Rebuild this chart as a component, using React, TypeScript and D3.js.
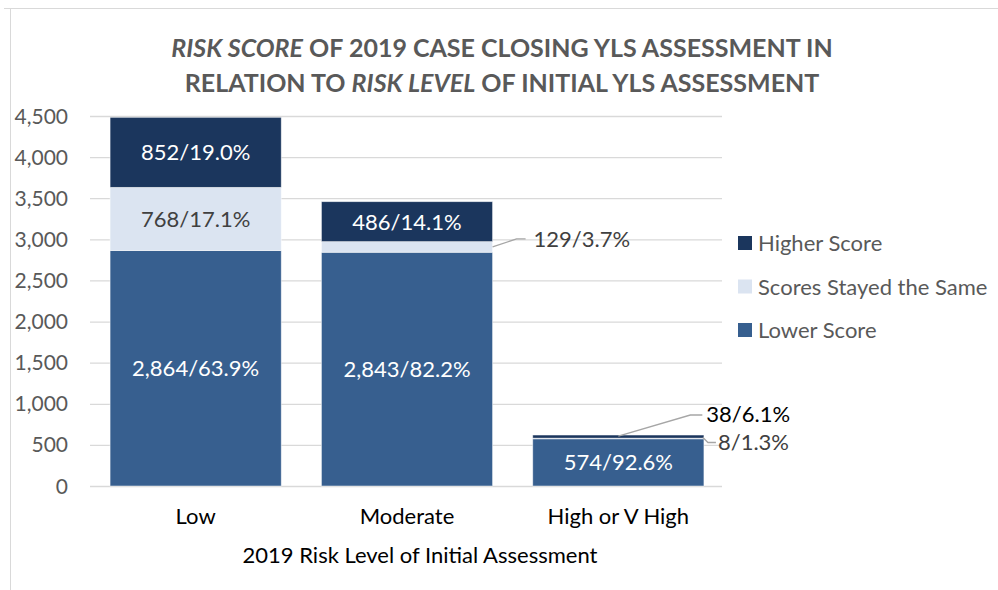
import React from "react";
import * as d3 from "d3";

const categories = ["Low", "Moderate", "High or V High"];
const seriesNames = ["Lower Score", "Scores Stayed the Same", "Higher Score"];
const lowerScore = [2864, 2843, 574];
const stayedSame = [768, 129, 8];
const higherScore = [852, 486, 38];
const lowerPct = ["63.9%", "82.2%", "92.6%"];
const samePct = ["17.1%", "3.7%", "1.3%"];
const higherPct = ["19.0%", "14.1%", "6.1%"];
const yTicks = [0, 500, 1000, 1500, 2000, 2500, 3000, 3500, 4000, 4500];
const colors = ["#375f8f", "#dbe4f1", "#1b365d"];

const W = 998;
const H = 590;
const FONT = "Lato, 'Open Sans', sans-serif";

export default function App() {
  const x = d3.scaleBand<string>().domain(categories).range([90, 724]).paddingInner(0.19).paddingOuter(0.095);
  const y = d3.scaleLinear().domain([0, 4500]).range([486, 116]);
  const fmt = d3.format(",");
  const values = [lowerScore, stayedSame, higherScore];
  const pcts = [lowerPct, samePct, higherPct];
  const rows = categories.map((c, i) => ({ c, lower: lowerScore[i], same: stayedSame[i], higher: higherScore[i] }));
  const stack = d3.stack<any>().keys(["lower", "same", "higher"])(rows);
  const bw = x.bandwidth();

  return (
    <svg width={W} height={H} style={{ position: "absolute", left: 0, top: 0 }}>
      <rect x={0} y={0} width={W} height={H} fill="#fff" />
      <line x1={4} y1={8.5} x2={W} y2={8.5} stroke="#d9d9d9" strokeWidth={1} />
      <line x1={10.5} y1={8} x2={10.5} y2={H} stroke="#d9d9d9" strokeWidth={1} />
      <g fontFamily={FONT} fontWeight={700} fontSize={25} fill="#595959" textAnchor="middle">
        <text x={502} y={57}>
          <tspan fontStyle="italic">RISK SCORE</tspan> OF 2019 CASE CLOSING YLS ASSESSMENT IN
        </text>
        <text x={502} y={92}>
          RELATION TO <tspan fontStyle="italic">RISK LEVEL</tspan> OF INITIAL YLS ASSESSMENT
        </text>
      </g>
      {yTicks.map((t) => (
        <g key={t}>
          <line x1={90} x2={722} y1={y(t) + 0.5} y2={y(t) + 0.5} stroke="#d9d9d9" strokeWidth={1.3} />
          <text x={68} y={y(t) + 7.5} textAnchor="end" fontFamily={FONT} fontSize={21} fill="#595959">
            {fmt(t)}
          </text>
        </g>
      ))}
      {stack.map((s, si) =>
        s.map((d, i) => (
          <rect
            key={si + "-" + i}
            x={x(categories[i])!}
            y={y(d[1])}
            width={bw}
            height={y(d[0]) - y(d[1])}
            fill={colors[si]}
            stroke="#ffffff"
            strokeOpacity={0.6}
            strokeWidth={0.8}
          />
        ))
      )}
      {stack.map((s, si) =>
        s.map((d, i) => {
          const v = values[si][i];
          const label = fmt(v) + "/" + pcts[si][i];
          const inside = y(d[0]) - y(d[1]) > 25;
          if (!inside) return null;
          return (
            <text
              key={"l" + si + "-" + i}
              x={x(categories[i])! + bw / 2}
              y={(y(d[0]) + y(d[1])) / 2 + 8}
              textAnchor="middle"
              fontFamily={FONT}
              fontSize={22}
              fill={si === 1 ? "#404040" : "#ffffff"}
            >
              {label}
            </text>
          );
        })
      )}
      {(() => {
        const m = stack[1][1];
        const mx = x(categories[1])! + bw;
        const my = (y(m[0]) + y(m[1])) / 2;
        const h1 = stack[2][2];
        const hx = x(categories[2])! + bw * 0.5;
        const hy = y(h1[1]) + 1;
        const s2 = stack[1][2];
        const sx = x(categories[2])! + bw;
        const sy = (y(s2[0]) + y(s2[1])) / 2;
        return (
          <g fontFamily={FONT} fontSize={22}>
            <polyline points={`${mx},${my} ${mx + 24},${my - 8} ${mx + 33},${my - 8}`} fill="none" stroke="#a6a6a6" strokeWidth={1.3} />
            <text x={mx + 41} y={my} fill="#404040">{fmt(stayedSame[1]) + "/" + samePct[1]}</text>
            <polyline points={`${hx},${hy} ${hx + 72},${hy - 21} ${hx + 84},${hy - 21}`} fill="none" stroke="#a6a6a6" strokeWidth={1.3} />
            <text x={hx + 88} y={hy - 14} fill="#000000">{fmt(higherScore[2]) + "/" + higherPct[2]}</text>
            <polyline points={`${sx - 1},${sy - 1} ${sx + 4},${sy + 4} ${sx + 12},${sy + 4}`} fill="none" stroke="#a6a6a6" strokeWidth={1.3} />
            <text x={sx + 14} y={sy + 12} fill="#404040">{fmt(stayedSame[2]) + "/" + samePct[2]}</text>
          </g>
        );
      })()}
      {categories.map((c) => (
        <text key={c} x={x(c)! + bw / 2} y={524} textAnchor="middle" fontFamily={FONT} fontSize={22} fill="#000">
          {c}
        </text>
      ))}
      <text x={420} y={563} textAnchor="middle" fontFamily={FONT} fontSize={22} fill="#000">
        2019 Risk Level of Initial Assessment
      </text>
      {[2, 1, 0].map((si, k) => (
        <g key={si}>
          <rect x={738} y={236 + k * 43.5} width={14} height={14} fill={colors[si]} />
          <text x={758} y={251 + k * 43.5} fontFamily={FONT} fontSize={22} fill="#595959">
            {seriesNames[si]}
          </text>
        </g>
      ))}
    </svg>
  );
}
